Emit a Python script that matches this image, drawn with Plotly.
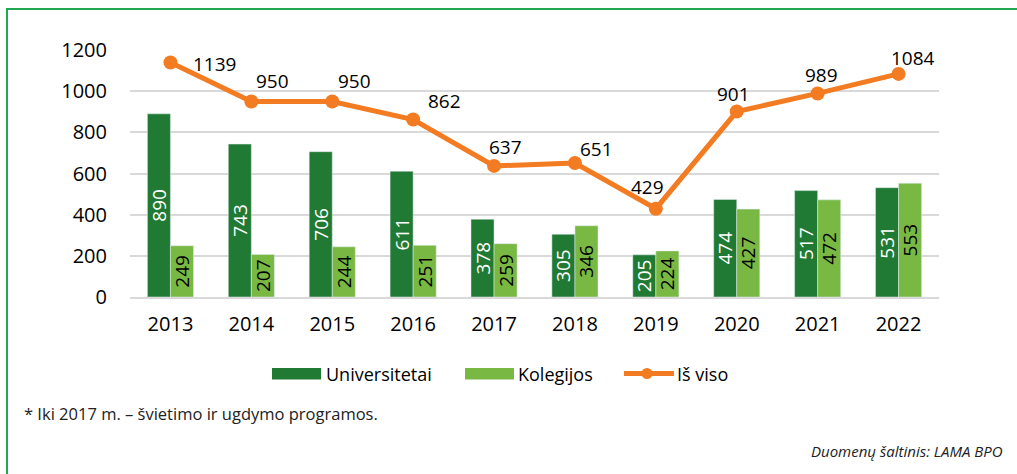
import plotly.graph_objects as go

years = ["2013", "2014", "2015", "2016", "2017", "2018", "2019", "2020", "2021", "2022"]
universitetai = [890, 743, 706, 611, 378, 305, 205, 474, 517, 531]
kolegijos = [249, 207, 244, 251, 259, 346, 224, 427, 472, 553]
is_viso = [1139, 950, 950, 862, 637, 651, 429, 901, 989, 1084]

# label offsets (pixels) for the total-line value labels
label_dx = [44, 21, 22, 31, 11, 22, -8, -3, 4, 14]
label_dy = [-1, 20, 20, 19, 19, 14, 22, 18, 18, 16]

FONT = "Open Sans"
DARK = "#217a34"
LIGHT = "#78b843"
ORANGE = "#f37b21"
BORDER = "#22a853"

W, H = 1017, 474
L, R, T, B = 130, 939, 50, 297

fig = go.Figure()
fig.add_trace(go.Bar(
    x=years, y=universitetai, name="Universitetai", marker_color=DARK,
    text=universitetai, textposition="inside", textangle=-90, insidetextanchor="middle",
    constraintext="none", textfont=dict(family=FONT, size=19, color="white"),
))
fig.add_trace(go.Bar(
    x=years, y=kolegijos, name="Kolegijos", marker_color=LIGHT,
    text=kolegijos, textposition="inside", textangle=-90, insidetextanchor="middle",
    constraintext="none", textfont=dict(family=FONT, size=19, color="black"),
))
fig.add_trace(go.Scatter(
    x=years, y=is_viso, name="Iš viso", mode="lines+markers",
    line=dict(color=ORANGE, width=5), marker=dict(color=ORANGE, size=14),
    cliponaxis=False,
))

pw, ph = R - L, B - T
def px(x):
    return (x - L) / pw
def py(y):
    return (B - y) / ph

annotations = []
for i, (v, dx, dy) in enumerate(zip(is_viso, label_dx, label_dy)):
    annotations.append(dict(
        x=i, y=v, xref="x", yref="y", text=str(v), showarrow=False,
        xshift=dx, yshift=dy, xanchor="center", yanchor="middle",
        font=dict(family=FONT, size=19, color="black"),
    ))

# manual legend (wide swatches like the original)
leg_y = 373.5
shapes = [
    dict(type="rect", xref="paper", yref="paper",
         x0=px(7), x1=px(1030), y0=py(9), y1=py(500),
         line=dict(color=BORDER, width=2), fillcolor="rgba(0,0,0,0)", layer="below"),
    dict(type="rect", xref="paper", yref="paper", x0=px(272), x1=px(321),
         y0=py(379.5), y1=py(368), fillcolor=DARK, line=dict(width=0)),
    dict(type="rect", xref="paper", yref="paper", x0=px(465), x1=px(514),
         y0=py(379.5), y1=py(368), fillcolor=LIGHT, line=dict(width=0)),
    dict(type="line", xref="paper", yref="paper", x0=px(624), x1=px(674),
         y0=py(leg_y), y1=py(leg_y), line=dict(color=ORANGE, width=5)),
    dict(type="circle", xref="paper", yref="paper", x0=px(641.5), x1=px(652.5),
         y0=py(leg_y + 5.5), y1=py(leg_y - 5.5), fillcolor=ORANGE, line=dict(width=0)),
]
for txt, xl in [("Universitetai", 326), ("Kolegijos", 518), ("Iš viso", 677)]:
    annotations.append(dict(
        xref="paper", yref="paper", x=px(xl), y=py(leg_y), xanchor="left", yanchor="middle",
        text=txt, showarrow=False, xshift=-2, font=dict(family=FONT, size=18, color="black")))

annotations += [
    dict(xref="paper", yref="paper", x=px(22), y=py(413), xanchor="left", yanchor="middle",
         text="* Iki 2017 m. – švietimo ir ugdymo programos.", showarrow=False,
         font=dict(family=FONT, size=16.5, color="#222222")),
    dict(xref="paper", yref="paper", x=px(1005), y=py(451), xanchor="right", yanchor="middle",
         text="<i>Duomenų šaltinis: LAMA BPO</i>", showarrow=False,
         font=dict(family=FONT, size=15, color="#222222")),
]

fig.update_layout(
    width=W, height=H,
    margin=dict(l=L, r=W - R, t=T, b=H - B),
    paper_bgcolor="white", plot_bgcolor="white",
    font=dict(family=FONT, size=20, color="black"),
    barmode="group", bargap=0.43, bargroupgap=0,
    showlegend=False,
    xaxis=dict(type="category", range=[-0.5, 9.5], showgrid=False, showline=True,
               linecolor="#d9d9d9", linewidth=2,
               ticks="outside", ticklen=8, tickcolor="rgba(0,0,0,0)",
               tickfont=dict(family=FONT, size=20)),
    yaxis=dict(range=[0, 1200], dtick=200, showgrid=True, gridcolor="#d9d9d9", gridwidth=1.5,
               zeroline=False, showline=False,
               ticks="outside", ticklen=18, tickcolor="rgba(0,0,0,0)",
               tickfont=dict(family=FONT, size=20)),
    shapes=shapes,
    annotations=annotations,
)

fig.write_html("out.html", config={"displayModeBar": False},
               post_script="document.body.style.margin='0';document.body.style.overflow='hidden';")
